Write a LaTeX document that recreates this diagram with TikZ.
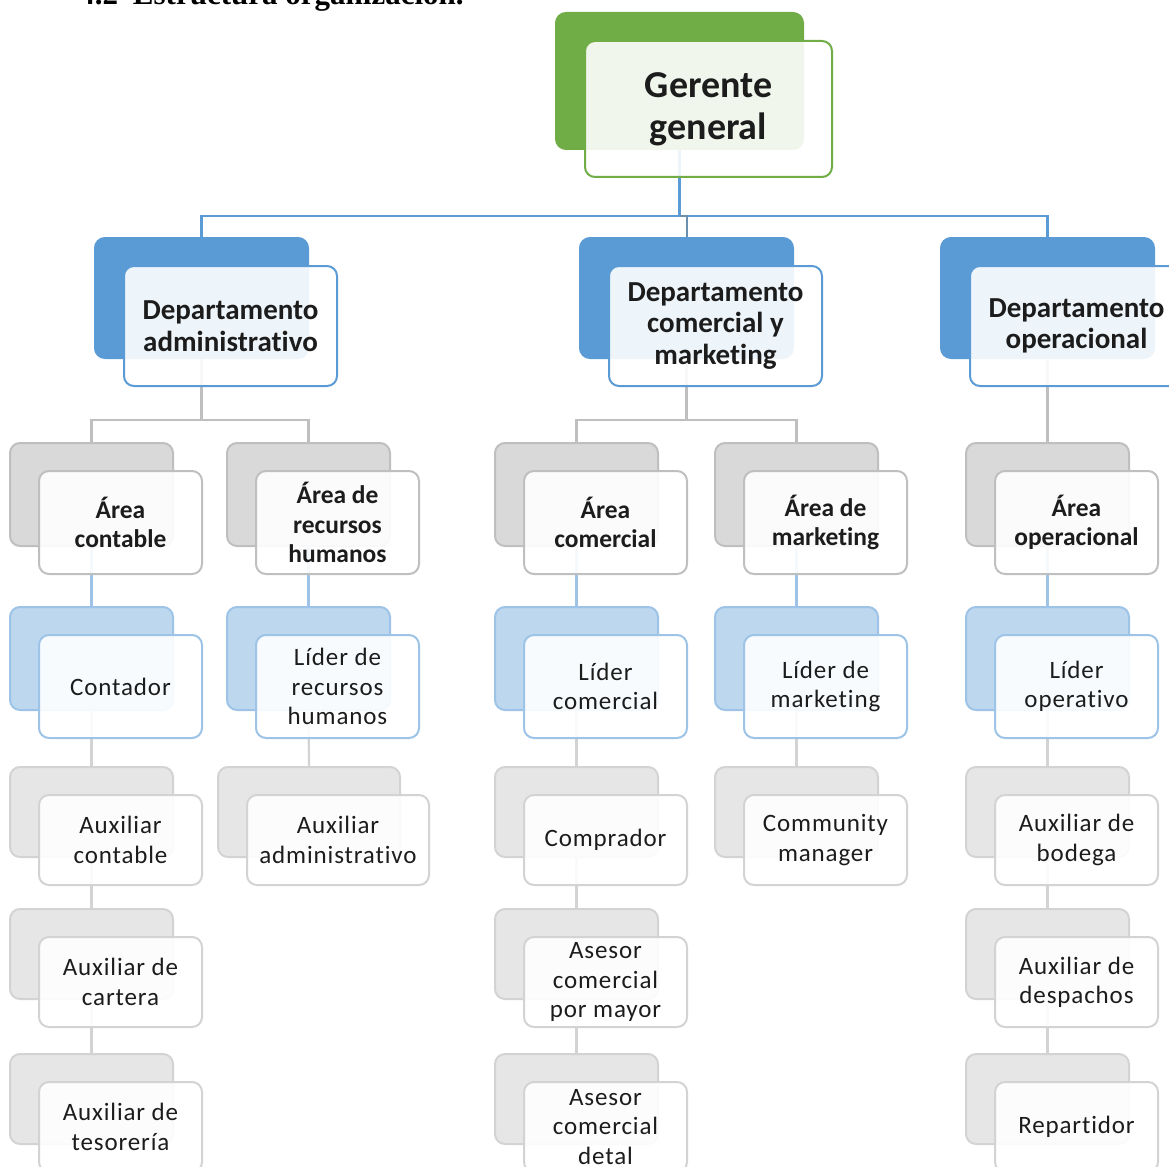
\documentclass[tikz,border=0pt]{standalone}
\usepackage{fontspec}
\setmainfont{Carlito}[Ligatures={NoCommon,NoContextual}]
\newfontfamily\titlefont{Liberation Serif}
\newfontfamily\spacedfont[LetterSpace=3.5,Ligatures={NoCommon,NoContextual}]{Carlito}
\usetikzlibrary{calc}
\pgfdeclarelayer{bg}
\pgfsetlayers{bg,main}

\definecolor{cgreen}{HTML}{70AD47}
\definecolor{cblue}{HTML}{5B9BD5}
\definecolor{cgrayA}{HTML}{D9D9D9}
\definecolor{cgrayAb}{HTML}{BFBFBF}
\definecolor{clblue}{HTML}{BDD7EE}
\definecolor{clblueb}{HTML}{9DC3E6}
\definecolor{cgrayB}{HTML}{E7E6E6}
\definecolor{cgrayBb}{HTML}{D3D3D3}
\definecolor{ctext}{HTML}{1C1C1C}

\tikzset{
  basebox/.style={rectangle, rounded corners=7.5pt, inner sep=0pt, align=center, text=ctext, line width=1.5pt},
  frontbox/.style={basebox, fill=white, fill opacity=0.9, text opacity=1},
  gback/.style={basebox, fill=cgreen, draw=cgreen},
  gfront/.style={frontbox, draw=cgreen, font=\bfseries\fontsize{28.5}{31.5}\selectfont},
  dback/.style={basebox, fill=cblue, draw=cblue},
  dfront/.style={frontbox, draw=cblue, font=\bfseries\fontsize{21.75}{23.6}\selectfont},
  aback/.style={basebox, fill=cgrayA, draw=cgrayAb},
  afront/.style={frontbox, draw=cgrayAb, font=\bfseries\fontsize{19.1}{22.2}\selectfont},
  lback/.style={basebox, fill=clblue, draw=clblueb},
  lfront/.style={frontbox, draw=clblueb, font=\spacedfont\fontsize{18.75}{22.2}\selectfont},
  pback/.style={basebox, fill=cgrayB, draw=cgrayBb},
  pfront/.style={frontbox, draw=cgrayBb, font=\spacedfont\fontsize{18.75}{22}\selectfont},
  blueline/.style={draw=cblue, line width=1.9pt},
  midline/.style={draw=cblue!55!gray, line width=1.5pt},
  grayline/.style={draw=cgrayAb, line width=1.6pt},
  lblueline/.style={draw=clblueb, line width=1.6pt},
  lgrayline/.style={draw=cgrayBb, line width=1.6pt}
}

% name, style, x, y (back box top left, px), width, height, text
\newcommand{\orgbox}[7]{%
  \node[#2back, anchor=north west, minimum width=#5*0.75pt, minimum height=#6*0.75pt] (#1b) at (#3,#4) {};
  \node[#2front, anchor=north west, minimum width=#5*0.75pt, minimum height=#6*0.75pt] (#1) at (#3+29,#4+28) {#7};
}

\begin{document}
\begin{tikzpicture}[x=0.75pt, y=-0.75pt]
\useasboundingbox (0,0) rectangle (1169,1166);
\clip (0,0) rectangle (1169,1166);

\node[anchor=base west, inner sep=0pt, font=\titlefont\bfseries\fontsize{23.25}{28}\selectfont] (title) at (79,5) {4.2\hspace{11.25pt}Estructura organización.};

% level 1
\orgbox{g}{g}{555}{12}{247}{136}{Gerente\\general}
% level 2
\orgbox{d1}{d}{94}{237}{213}{120}{Departamento\\administrativo}
\orgbox{d2}{d}{579}{237}{213}{120}{Departamento\\comercial y\\marketing}
\orgbox{d3}{d}{940}{237}{213}{120}{Departamento\\operacional}
% level 3
\orgbox{a1}{a}{9}{442}{163}{103}{Área\\contable}
\orgbox{a2}{a}{226}{442}{163}{103}{Área de\\recursos\\humanos}
\orgbox{a3}{a}{494}{442}{163}{103}{Área\\comercial}
\orgbox{a4}{a}{714}{442}{163}{103}{Área de\\marketing}
\orgbox{a5}{a}{965}{442}{163}{103}{Área\\operacional}
% level 4
\orgbox{l1}{l}{9}{606}{163}{103}{Contador}
\orgbox{l2}{l}{226}{606}{163}{103}{Líder de\\recursos\\humanos}
\orgbox{l3}{l}{494}{606}{163}{103}{Líder\\comercial}
\orgbox{l4}{l}{714}{606}{163}{103}{Líder de\\marketing}
\orgbox{l5}{l}{965}{606}{163}{103}{Líder\\operativo}
% level 5
\orgbox{p1a}{p}{9}{766}{163}{90}{Auxiliar\\contable}
\orgbox{p2a}{p}{217}{766}{182}{90}{Auxiliar\\administrativo}
\orgbox{p3a}{p}{494}{766}{163}{90}{Comprador}
\orgbox{p4a}{p}{714}{766}{163}{90}{Community\\manager}
\orgbox{p5a}{p}{965}{766}{163}{90}{Auxiliar de\\bodega}
% level 6
\orgbox{p1b}{p}{9}{908}{163}{90}{Auxiliar de\\cartera}
\orgbox{p3b}{p}{494}{908}{163}{90}{Asesor\\comercial\\por mayor}
\orgbox{p5b}{p}{965}{908}{163}{90}{Auxiliar de\\despachos}
% level 7
\orgbox{p1c}{p}{9}{1053}{163}{90}{Auxiliar de\\tesorería}
\orgbox{p3c}{p}{494}{1053}{163}{90}{Asesor\\comercial\\detal}
\orgbox{p5c}{p}{965}{1053}{163}{90}{Repartidor}

\begin{pgfonlayer}{bg}
  % gerente to departments
  \draw[blueline] (gb.south) -- ++(0,66) coordinate (j0) -| (d1b.north);
  \draw[blueline] (j0) -| (d3b.north);
  \draw[midline] (j0) -| (d2b.north);
  % departments to areas
  \draw[grayline] (d1b.south) -- ++(0,61) coordinate (ja) -| (a1b.north);
  \draw[grayline] (ja) -| (a2b.north);
  \draw[grayline] (d2b.south) -- ++(0,61) coordinate (jc) -| (a3b.north);
  \draw[grayline] (jc) -| (a4b.north);
  \draw[grayline] (d3b.south) -- (a5b.north);
  % areas to leaders
  \draw[lblueline] (a1b.south) -- (l1b.north);
  \draw[lblueline] (a2b.south) -- (l2b.north);
  \draw[lblueline] (a3b.south) -- (l3b.north);
  \draw[lblueline] (a4b.south) -- (l4b.north);
  \draw[lblueline] (a5b.south) -- (l5b.north);
  % leaders to staff
  \draw[lgrayline] (l1b.south) -- (p1ab.north);
  \draw[lgrayline] (l2b.south) -- (p2ab.north);
  \draw[lgrayline] (l3b.south) -- (p3ab.north);
  \draw[lgrayline] (l4b.south) -- (p4ab.north);
  \draw[lgrayline] (l5b.south) -- (p5ab.north);
  \draw[lgrayline] (p1ab.south) -- (p1bb.north);
  \draw[lgrayline] (p1bb.south) -- (p1cb.north);
  \draw[lgrayline] (p3ab.south) -- (p3bb.north);
  \draw[lgrayline] (p3bb.south) -- (p3cb.north);
  \draw[lgrayline] (p5ab.south) -- (p5bb.north);
  \draw[lgrayline] (p5bb.south) -- (p5cb.north);
\end{pgfonlayer}
\end{tikzpicture}
\end{document}
